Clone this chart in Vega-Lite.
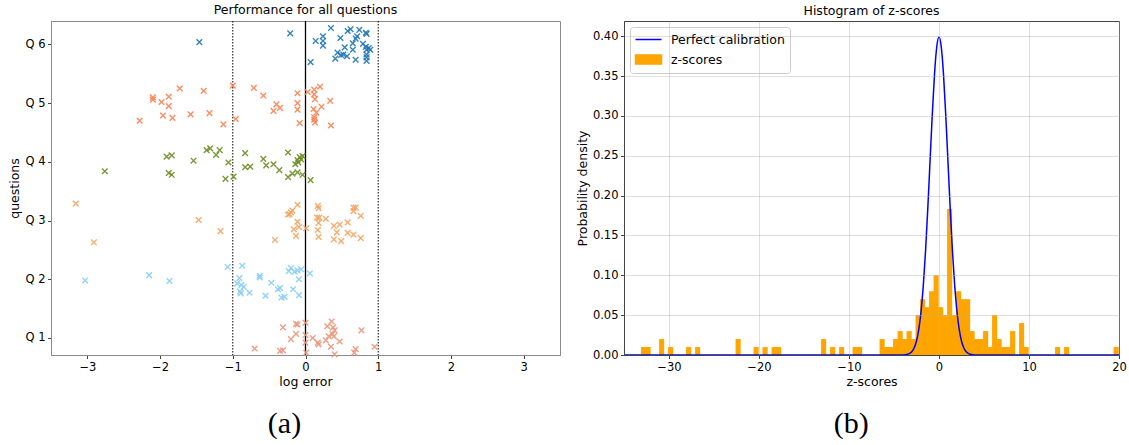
{
  "$schema": "https://vega.github.io/schema/vega-lite/v6.json",
  "padding": {"left": 8, "top": 3, "right": 2, "bottom": 0},
  "config": {
    "font": "DejaVu Sans",
    "view": {"stroke": null},
    "axis": {"labelFontSize": 11.5, "titleFontSize": 12.5, "titleFontWeight": "normal", "labelColor": "#000", "titleColor": "#000", "tickSize": 3.5, "labelPadding": 2.5, "titlePadding": 3, "labelFlush": false, "labelOverlap": false, "grid": false, "labelFont": "DejaVu Sans", "titleFont": "DejaVu Sans"},
    "title": {"fontSize": 12.5, "fontWeight": "normal", "offset": 4, "color": "#000", "font": "DejaVu Sans"}
  },
  "spacing": 14,
  "resolve": {"scale": {"color": "independent"}, "legend": {"color": "independent"}},
  "hconcat": [
    {
      "title": {"text": "(a)", "orient": "bottom", "anchor": "middle", "frame": "bounds", "font": "Liberation Serif", "fontSize": 30, "offset": 20},
      "resolve": {"scale": {"color": "independent"}, "legend": {"color": "independent"}},
      "vconcat": [
        {
          "title": "Performance for all questions",
          "width": 509,
          "height": 334,
          "view": {"stroke": "#8a8a8a"},
          "layer": [
            {
              "data": {"values": [{"v": -1}, {"v": 1}]},
              "mark": {"type": "rule", "strokeDash": [1.5, 1.5], "color": "#000", "strokeWidth": 1},
              "encoding": {"x": {"field": "v", "type": "quantitative", "scale": {"domain": [-3.5, 3.5], "nice": false, "zero": false}}}
            },
            {
              "data": {"values": [{"v": 0}]},
              "mark": {"type": "rule", "color": "#000", "strokeWidth": 1.3},
              "encoding": {"x": {"field": "v", "type": "quantitative", "scale": {"domain": [-3.5, 3.5], "nice": false, "zero": false}}}
            },
            {
              "data": {"values": [
                {"question": "Q 6", "log_error": -1.46, "pos": 6.04},
                {"question": "Q 6", "log_error": -0.21, "pos": 6.19},
                {"question": "Q 6", "log_error": 0.35, "pos": 6.28},
                {"question": "Q 6", "log_error": 0.14, "pos": 6.06},
                {"question": "Q 6", "log_error": 0.24, "pos": 6.14},
                {"question": "Q 6", "log_error": 0.24, "pos": 6.06},
                {"question": "Q 6", "log_error": 0.24, "pos": 5.98},
                {"question": "Q 6", "log_error": 0.48, "pos": 6.11},
                {"question": "Q 6", "log_error": 0.58, "pos": 6.23},
                {"question": "Q 6", "log_error": 0.62, "pos": 6.26},
                {"question": "Q 6", "log_error": 0.74, "pos": 6.25},
                {"question": "Q 6", "log_error": 0.83, "pos": 6.20},
                {"question": "Q 6", "log_error": 0.84, "pos": 6.18},
                {"question": "Q 6", "log_error": 0.71, "pos": 6.14},
                {"question": "Q 6", "log_error": 0.69, "pos": 6.10},
                {"question": "Q 6", "log_error": 0.65, "pos": 6.02},
                {"question": "Q 6", "log_error": 0.65, "pos": 5.91},
                {"question": "Q 6", "log_error": 0.54, "pos": 5.95},
                {"question": "Q 6", "log_error": 0.44, "pos": 5.86},
                {"question": "Q 6", "log_error": 0.52, "pos": 5.83},
                {"question": "Q 6", "log_error": 0.49, "pos": 5.82},
                {"question": "Q 6", "log_error": 0.57, "pos": 5.80},
                {"question": "Q 6", "log_error": 0.41, "pos": 5.76},
                {"question": "Q 6", "log_error": 0.07, "pos": 5.70},
                {"question": "Q 6", "log_error": 0.69, "pos": 5.74},
                {"question": "Q 6", "log_error": 0.79, "pos": 6.01},
                {"question": "Q 6", "log_error": 0.83, "pos": 5.96},
                {"question": "Q 6", "log_error": 0.87, "pos": 5.94},
                {"question": "Q 6", "log_error": 0.84, "pos": 5.91},
                {"question": "Q 6", "log_error": 0.89, "pos": 5.91},
                {"question": "Q 6", "log_error": 0.84, "pos": 5.83},
                {"question": "Q 6", "log_error": 0.84, "pos": 5.78},
                {"question": "Q 6", "log_error": 0.84, "pos": 5.72},
                {"question": "Q 5", "log_error": -2.10, "pos": 5.10},
                {"question": "Q 5", "log_error": -2.10, "pos": 5.06},
                {"question": "Q 5", "log_error": -1.98, "pos": 5.02},
                {"question": "Q 5", "log_error": -1.88, "pos": 5.11},
                {"question": "Q 5", "log_error": -1.88, "pos": 4.95},
                {"question": "Q 5", "log_error": -1.73, "pos": 5.25},
                {"question": "Q 5", "log_error": -2.28, "pos": 4.70},
                {"question": "Q 5", "log_error": -1.96, "pos": 4.79},
                {"question": "Q 5", "log_error": -1.83, "pos": 4.75},
                {"question": "Q 5", "log_error": -1.40, "pos": 5.21},
                {"question": "Q 5", "log_error": -1.58, "pos": 4.81},
                {"question": "Q 5", "log_error": -1.32, "pos": 4.83},
                {"question": "Q 5", "log_error": -1.13, "pos": 4.64},
                {"question": "Q 5", "log_error": -1.00, "pos": 5.30},
                {"question": "Q 5", "log_error": -0.96, "pos": 4.73},
                {"question": "Q 5", "log_error": -0.71, "pos": 5.26},
                {"question": "Q 5", "log_error": -0.58, "pos": 5.13},
                {"question": "Q 5", "log_error": -0.40, "pos": 4.98},
                {"question": "Q 5", "log_error": -0.35, "pos": 4.92},
                {"question": "Q 5", "log_error": -0.44, "pos": 4.87},
                {"question": "Q 5", "log_error": -0.11, "pos": 5.17},
                {"question": "Q 5", "log_error": -0.11, "pos": 5.00},
                {"question": "Q 5", "log_error": -0.11, "pos": 4.89},
                {"question": "Q 5", "log_error": -0.08, "pos": 4.66},
                {"question": "Q 5", "log_error": 0.03, "pos": 5.19},
                {"question": "Q 5", "log_error": 0.12, "pos": 5.23},
                {"question": "Q 5", "log_error": 0.12, "pos": 5.15},
                {"question": "Q 5", "log_error": 0.13, "pos": 5.07},
                {"question": "Q 5", "log_error": 0.20, "pos": 5.28},
                {"question": "Q 5", "log_error": 0.34, "pos": 5.04},
                {"question": "Q 5", "log_error": 0.11, "pos": 4.90},
                {"question": "Q 5", "log_error": 0.22, "pos": 4.94},
                {"question": "Q 5", "log_error": 0.15, "pos": 4.84},
                {"question": "Q 5", "log_error": 0.12, "pos": 4.76},
                {"question": "Q 5", "log_error": 0.12, "pos": 4.72},
                {"question": "Q 5", "log_error": 0.13, "pos": 4.67},
                {"question": "Q 5", "log_error": 0.35, "pos": 4.62},
                {"question": "Q 4", "log_error": -2.76, "pos": 3.84},
                {"question": "Q 4", "log_error": -1.91, "pos": 4.09},
                {"question": "Q 4", "log_error": -1.84, "pos": 4.11},
                {"question": "Q 4", "log_error": -1.88, "pos": 3.81},
                {"question": "Q 4", "log_error": -1.84, "pos": 3.78},
                {"question": "Q 4", "log_error": -1.54, "pos": 4.02},
                {"question": "Q 4", "log_error": -1.36, "pos": 4.20},
                {"question": "Q 4", "log_error": -1.31, "pos": 4.23},
                {"question": "Q 4", "log_error": -1.23, "pos": 4.12},
                {"question": "Q 4", "log_error": -1.18, "pos": 4.20},
                {"question": "Q 4", "log_error": -1.06, "pos": 3.99},
                {"question": "Q 4", "log_error": -1.10, "pos": 3.71},
                {"question": "Q 4", "log_error": -0.99, "pos": 3.75},
                {"question": "Q 4", "log_error": -0.83, "pos": 4.15},
                {"question": "Q 4", "log_error": -0.83, "pos": 3.91},
                {"question": "Q 4", "log_error": -0.76, "pos": 3.92},
                {"question": "Q 4", "log_error": -0.58, "pos": 4.05},
                {"question": "Q 4", "log_error": -0.54, "pos": 3.94},
                {"question": "Q 4", "log_error": -0.44, "pos": 3.96},
                {"question": "Q 4", "log_error": -0.36, "pos": 3.86},
                {"question": "Q 4", "log_error": -0.24, "pos": 4.16},
                {"question": "Q 4", "log_error": -0.24, "pos": 3.74},
                {"question": "Q 4", "log_error": -0.18, "pos": 3.80},
                {"question": "Q 4", "log_error": -0.14, "pos": 3.96},
                {"question": "Q 4", "log_error": -0.11, "pos": 4.03},
                {"question": "Q 4", "log_error": -0.08, "pos": 4.08},
                {"question": "Q 4", "log_error": -0.04, "pos": 4.10},
                {"question": "Q 4", "log_error": -0.06, "pos": 4.04},
                {"question": "Q 4", "log_error": -0.10, "pos": 3.99},
                {"question": "Q 4", "log_error": -0.04, "pos": 3.78},
                {"question": "Q 4", "log_error": -0.11, "pos": 3.82},
                {"question": "Q 4", "log_error": 0.07, "pos": 3.69},
                {"question": "Q 3", "log_error": -3.16, "pos": 3.29},
                {"question": "Q 3", "log_error": -2.91, "pos": 2.63},
                {"question": "Q 3", "log_error": -1.47, "pos": 3.01},
                {"question": "Q 3", "log_error": -1.17, "pos": 2.82},
                {"question": "Q 3", "log_error": -0.42, "pos": 2.67},
                {"question": "Q 3", "log_error": -0.22, "pos": 3.11},
                {"question": "Q 3", "log_error": -0.20, "pos": 3.14},
                {"question": "Q 3", "log_error": -0.18, "pos": 3.17},
                {"question": "Q 3", "log_error": -0.24, "pos": 3.10},
                {"question": "Q 3", "log_error": -0.11, "pos": 3.27},
                {"question": "Q 3", "log_error": -0.11, "pos": 2.98},
                {"question": "Q 3", "log_error": -0.16, "pos": 2.85},
                {"question": "Q 3", "log_error": -0.13, "pos": 2.74},
                {"question": "Q 3", "log_error": -0.09, "pos": 2.89},
                {"question": "Q 3", "log_error": 0.01, "pos": 2.87},
                {"question": "Q 3", "log_error": 0.17, "pos": 3.25},
                {"question": "Q 3", "log_error": 0.18, "pos": 3.21},
                {"question": "Q 3", "log_error": 0.19, "pos": 3.05},
                {"question": "Q 3", "log_error": 0.16, "pos": 3.05},
                {"question": "Q 3", "log_error": 0.18, "pos": 2.96},
                {"question": "Q 3", "log_error": 0.17, "pos": 2.84},
                {"question": "Q 3", "log_error": 0.18, "pos": 2.72},
                {"question": "Q 3", "log_error": 0.28, "pos": 3.03},
                {"question": "Q 3", "log_error": 0.39, "pos": 2.91},
                {"question": "Q 3", "log_error": 0.47, "pos": 2.93},
                {"question": "Q 3", "log_error": 0.43, "pos": 2.80},
                {"question": "Q 3", "log_error": 0.39, "pos": 2.68},
                {"question": "Q 3", "log_error": 0.49, "pos": 2.65},
                {"question": "Q 3", "log_error": 0.58, "pos": 2.97},
                {"question": "Q 3", "log_error": 0.58, "pos": 2.79},
                {"question": "Q 3", "log_error": 0.66, "pos": 2.76},
                {"question": "Q 3", "log_error": 0.66, "pos": 3.22},
                {"question": "Q 3", "log_error": 0.69, "pos": 3.22},
                {"question": "Q 3", "log_error": 0.66, "pos": 3.16},
                {"question": "Q 3", "log_error": 0.76, "pos": 3.08},
                {"question": "Q 3", "log_error": 0.76, "pos": 2.70},
                {"question": "Q 2", "log_error": -3.03, "pos": 1.98},
                {"question": "Q 2", "log_error": -2.15, "pos": 2.07},
                {"question": "Q 2", "log_error": -1.87, "pos": 1.97},
                {"question": "Q 2", "log_error": -1.07, "pos": 2.21},
                {"question": "Q 2", "log_error": -0.87, "pos": 2.23},
                {"question": "Q 2", "log_error": -0.91, "pos": 2.02},
                {"question": "Q 2", "log_error": -0.94, "pos": 1.93},
                {"question": "Q 2", "log_error": -0.88, "pos": 1.90},
                {"question": "Q 2", "log_error": -0.85, "pos": 1.87},
                {"question": "Q 2", "log_error": -0.90, "pos": 1.79},
                {"question": "Q 2", "log_error": -0.89, "pos": 1.76},
                {"question": "Q 2", "log_error": -0.77, "pos": 1.77},
                {"question": "Q 2", "log_error": -0.63, "pos": 2.06},
                {"question": "Q 2", "log_error": -0.63, "pos": 2.03},
                {"question": "Q 2", "log_error": -0.55, "pos": 1.72},
                {"question": "Q 2", "log_error": -0.47, "pos": 1.94},
                {"question": "Q 2", "log_error": -0.38, "pos": 1.83},
                {"question": "Q 2", "log_error": -0.35, "pos": 1.85},
                {"question": "Q 2", "log_error": -0.33, "pos": 1.69},
                {"question": "Q 2", "log_error": -0.29, "pos": 1.70},
                {"question": "Q 2", "log_error": -0.23, "pos": 2.14},
                {"question": "Q 2", "log_error": -0.20, "pos": 2.19},
                {"question": "Q 2", "log_error": -0.15, "pos": 2.13},
                {"question": "Q 2", "log_error": -0.11, "pos": 2.15},
                {"question": "Q 2", "log_error": -0.17, "pos": 1.83},
                {"question": "Q 2", "log_error": -0.09, "pos": 2.00},
                {"question": "Q 2", "log_error": -0.09, "pos": 1.73},
                {"question": "Q 2", "log_error": -0.06, "pos": 2.17},
                {"question": "Q 2", "log_error": 0.06, "pos": 2.10},
                {"question": "Q 1", "log_error": -0.70, "pos": 0.82},
                {"question": "Q 1", "log_error": -0.35, "pos": 0.78},
                {"question": "Q 1", "log_error": -0.31, "pos": 0.79},
                {"question": "Q 1", "log_error": -0.31, "pos": 1.18},
                {"question": "Q 1", "log_error": -0.20, "pos": 0.98},
                {"question": "Q 1", "log_error": -0.13, "pos": 1.07},
                {"question": "Q 1", "log_error": -0.13, "pos": 1.24},
                {"question": "Q 1", "log_error": -0.11, "pos": 1.23},
                {"question": "Q 1", "log_error": 0.00, "pos": 1.26},
                {"question": "Q 1", "log_error": 0.00, "pos": 1.05},
                {"question": "Q 1", "log_error": 0.00, "pos": 0.92},
                {"question": "Q 1", "log_error": 0.01, "pos": 0.75},
                {"question": "Q 1", "log_error": 0.10, "pos": 1.00},
                {"question": "Q 1", "log_error": 0.17, "pos": 0.92},
                {"question": "Q 1", "log_error": 0.18, "pos": 0.89},
                {"question": "Q 1", "log_error": 0.28, "pos": 0.96},
                {"question": "Q 1", "log_error": 0.30, "pos": 1.20},
                {"question": "Q 1", "log_error": 0.35, "pos": 0.85},
                {"question": "Q 1", "log_error": 0.36, "pos": 1.28},
                {"question": "Q 1", "log_error": 0.38, "pos": 1.18},
                {"question": "Q 1", "log_error": 0.40, "pos": 1.13},
                {"question": "Q 1", "log_error": 0.37, "pos": 1.07},
                {"question": "Q 1", "log_error": 0.39, "pos": 1.03},
                {"question": "Q 1", "log_error": 0.32, "pos": 1.03},
                {"question": "Q 1", "log_error": 0.40, "pos": 0.72},
                {"question": "Q 1", "log_error": 0.47, "pos": 0.94},
                {"question": "Q 1", "log_error": 0.67, "pos": 0.75},
                {"question": "Q 1", "log_error": 0.69, "pos": 0.81},
                {"question": "Q 1", "log_error": 0.77, "pos": 1.13},
                {"question": "Q 1", "log_error": 0.95, "pos": 0.85}
              ]},
              "mark": {"type": "point", "shape": "M-1,-1L1,1M-1,1L1,-1", "filled": false, "strokeWidth": 1.4, "size": 32, "opacity": 0.9},
              "encoding": {
                "x": {"field": "log_error", "type": "quantitative", "scale": {"domain": [-3.5, 3.5], "nice": false, "zero": false},
                  "axis": {"title": "log error", "values": [-3, -2, -1, 0, 1, 2, 3], "labelExpr": "datum.value < 0 ? '−' + abs(datum.value) : '' + datum.value", "domainColor": "#8a8a8a", "tickColor": "#444"}},
                "y": {"field": "pos", "type": "quantitative", "scale": {"domain": [0.71, 6.4], "nice": false, "zero": false},
                  "axis": {"title": "questions", "values": [1, 2, 3, 4, 5, 6], "labelExpr": "'Q ' + datum.value", "domainColor": "#8a8a8a", "tickColor": "#444"}},
                "color": {"field": "question", "type": "nominal",
                  "scale": {"domain": ["Q 1", "Q 2", "Q 3", "Q 4", "Q 5", "Q 6"], "range": ["#e9967a", "#87cefa", "#f4a460", "#6b8e23", "#ff7f50", "#1f77b4"]},
                  "legend": null}
              }
            }
          ]
        }
      ]
    },
    {
      "title": {"text": "(b)", "orient": "bottom", "anchor": "middle", "frame": "bounds", "font": "Liberation Serif", "fontSize": 30, "offset": 20},
      "resolve": {"scale": {"color": "independent"}, "legend": {"color": "independent"}},
      "vconcat": [
        {
          "title": "Histogram of z-scores",
          "width": 495,
          "height": 334,
          "view": {"stroke": "#444"},
          "layer": [
            {
              "data": {"values": [
                {"z0": -33.07, "z1": -32.57, "density": 0.01},
                {"z0": -32.57, "z1": -32.07, "density": 0.01},
                {"z0": -31.07, "z1": -30.57, "density": 0.02},
                {"z0": -30.07, "z1": -29.57, "density": 0.01},
                {"z0": -28.07, "z1": -27.57, "density": 0.01},
                {"z0": -27.07, "z1": -26.57, "density": 0.01},
                {"z0": -22.57, "z1": -22.07, "density": 0.02},
                {"z0": -20.57, "z1": -20.07, "density": 0.01},
                {"z0": -19.57, "z1": -19.07, "density": 0.01},
                {"z0": -18.57, "z1": -18.07, "density": 0.01},
                {"z0": -18.07, "z1": -17.57, "density": 0.01},
                {"z0": -13.07, "z1": -12.57, "density": 0.02},
                {"z0": -12.07, "z1": -11.57, "density": 0.01},
                {"z0": -11.07, "z1": -10.57, "density": 0.01},
                {"z0": -9.57, "z1": -9.07, "density": 0.01},
                {"z0": -9.07, "z1": -8.57, "density": 0.01},
                {"z0": -6.57, "z1": -6.07, "density": 0.02},
                {"z0": -6.07, "z1": -5.57, "density": 0.01},
                {"z0": -5.57, "z1": -5.07, "density": 0.01},
                {"z0": -5.07, "z1": -4.57, "density": 0.02},
                {"z0": -4.57, "z1": -4.07, "density": 0.03},
                {"z0": -4.07, "z1": -3.57, "density": 0.02},
                {"z0": -3.57, "z1": -3.07, "density": 0.03},
                {"z0": -3.07, "z1": -2.57, "density": 0.02},
                {"z0": -2.57, "z1": -2.07, "density": 0.05},
                {"z0": -2.07, "z1": -1.57, "density": 0.07},
                {"z0": -1.57, "z1": -1.07, "density": 0.06},
                {"z0": -1.07, "z1": -0.57, "density": 0.08},
                {"z0": -0.57, "z1": -0.07, "density": 0.10},
                {"z0": -0.07, "z1": 0.43, "density": 0.06},
                {"z0": 0.43, "z1": 0.93, "density": 0.05},
                {"z0": 0.93, "z1": 1.43, "density": 0.183},
                {"z0": 1.43, "z1": 1.93, "density": 0.05},
                {"z0": 1.93, "z1": 2.43, "density": 0.08},
                {"z0": 2.43, "z1": 2.93, "density": 0.07},
                {"z0": 2.93, "z1": 3.43, "density": 0.07},
                {"z0": 3.43, "z1": 3.93, "density": 0.03},
                {"z0": 3.93, "z1": 4.43, "density": 0.02},
                {"z0": 4.43, "z1": 4.93, "density": 0.02},
                {"z0": 4.93, "z1": 5.43, "density": 0.03},
                {"z0": 5.43, "z1": 5.93, "density": 0.01},
                {"z0": 5.93, "z1": 6.43, "density": 0.05},
                {"z0": 6.43, "z1": 6.93, "density": 0.02},
                {"z0": 6.93, "z1": 7.43, "density": 0.01},
                {"z0": 7.43, "z1": 7.93, "density": 0.01},
                {"z0": 7.93, "z1": 8.43, "density": 0.03},
                {"z0": 8.93, "z1": 9.43, "density": 0.04},
                {"z0": 9.43, "z1": 9.93, "density": 0.01},
                {"z0": 12.93, "z1": 13.43, "density": 0.01},
                {"z0": 13.93, "z1": 14.43, "density": 0.01},
                {"z0": 19.43, "z1": 19.93, "density": 0.01}
              ]},
              "mark": {"type": "bar", "xOffset": -0.3, "x2Offset": 0.3},
              "encoding": {
                "x": {"field": "z0", "type": "quantitative", "scale": {"domain": [-35, 20], "nice": false, "zero": false},
                  "axis": {"title": "z-scores", "values": [-30, -20, -10, 0, 10, 20], "labelExpr": "datum.value < 0 ? '−' + abs(datum.value) : '' + datum.value", "grid": true, "gridColor": "#b0b0b0", "gridOpacity": 0.4, "domainColor": "#444", "tickColor": "#444", "zindex": 1}},
                "x2": {"field": "z1"},
                "y": {"field": "density", "type": "quantitative", "scale": {"domain": [0, 0.419], "nice": false, "zero": true},
                  "axis": {"title": "Probability density", "values": [0, 0.05, 0.1, 0.15, 0.2, 0.25, 0.3, 0.35, 0.4], "format": ".2f", "grid": true, "gridColor": "#b0b0b0", "gridOpacity": 0.4, "domainColor": "#444", "tickColor": "#444", "zindex": 1}},
                "y2": {"datum": 0},
                "color": {"datum": "z-scores", "type": "nominal",
                  "scale": {"domain": ["Perfect calibration", "z-scores"], "range": ["#0000ff", "#ffa500"]},
                  "legend": {
                    "title": null, "orient": "top-left", "offset": 6,
                    "fillColor": "rgba(255,255,255,0.8)", "strokeColor": "#cccccc", "cornerRadius": 3, "padding": 5,
                    "rowPadding": 5, "labelFontSize": 12.5, "labelFont": "DejaVu Sans", "labelColor": "#000",
                    "symbolSize": 169, "symbolOffset": 6, "labelOffset": 15,
                    "encode": {"symbols": {"update": {
                      "shape": {"signal": "datum.value === 'z-scores' ? 'M-2,-0.7H2V0.7H-2Z' : 'M-2,0H2'"},
                      "fill": {"signal": "datum.value === 'z-scores' ? '#ffa500' : 'transparent'"},
                      "stroke": {"signal": "datum.value === 'z-scores' ? 'transparent' : '#0000ff'"},
                      "strokeWidth": {"value": 1.5},
                      "opacity": {"value": 1}
                    }}}
                  }}
              }
            },
            {
              "data": {"values": [
                {"z": -35, "pdf": 0},
                {"z": -6, "pdf": 0},
                {"z": -5, "pdf": 0.0000015},
                {"z": -4.5, "pdf": 0.000016},
                {"z": -4, "pdf": 0.000134},
                {"z": -3.75, "pdf": 0.000353},
                {"z": -3.5, "pdf": 0.000873},
                {"z": -3.25, "pdf": 0.00203},
                {"z": -3, "pdf": 0.00443},
                {"z": -2.75, "pdf": 0.00909},
                {"z": -2.5, "pdf": 0.01753},
                {"z": -2.25, "pdf": 0.03174},
                {"z": -2, "pdf": 0.05399},
                {"z": -1.75, "pdf": 0.08628},
                {"z": -1.5, "pdf": 0.12952},
                {"z": -1.25, "pdf": 0.18265},
                {"z": -1, "pdf": 0.24197},
                {"z": -0.75, "pdf": 0.30114},
                {"z": -0.5, "pdf": 0.35207},
                {"z": -0.25, "pdf": 0.38667},
                {"z": 0, "pdf": 0.39894},
                {"z": 0.25, "pdf": 0.38667},
                {"z": 0.5, "pdf": 0.35207},
                {"z": 0.75, "pdf": 0.30114},
                {"z": 1, "pdf": 0.24197},
                {"z": 1.25, "pdf": 0.18265},
                {"z": 1.5, "pdf": 0.12952},
                {"z": 1.75, "pdf": 0.08628},
                {"z": 2, "pdf": 0.05399},
                {"z": 2.25, "pdf": 0.03174},
                {"z": 2.5, "pdf": 0.01753},
                {"z": 2.75, "pdf": 0.00909},
                {"z": 3, "pdf": 0.00443},
                {"z": 3.25, "pdf": 0.00203},
                {"z": 3.5, "pdf": 0.000873},
                {"z": 3.75, "pdf": 0.000353},
                {"z": 4, "pdf": 0.000134},
                {"z": 4.5, "pdf": 0.000016},
                {"z": 5, "pdf": 0.0000015},
                {"z": 6, "pdf": 0},
                {"z": 20, "pdf": 0}
              ]},
              "mark": {"type": "line", "strokeWidth": 1.5, "interpolate": "monotone"},
              "encoding": {
                "x": {"field": "z", "type": "quantitative", "scale": {"domain": [-35, 20], "nice": false, "zero": false}},
                "y": {"field": "pdf", "type": "quantitative", "scale": {"domain": [0, 0.419], "nice": false}},
                "color": {"datum": "Perfect calibration", "type": "nominal"}
              }
            }
          ]
        }
      ]
    }
  ]
}
